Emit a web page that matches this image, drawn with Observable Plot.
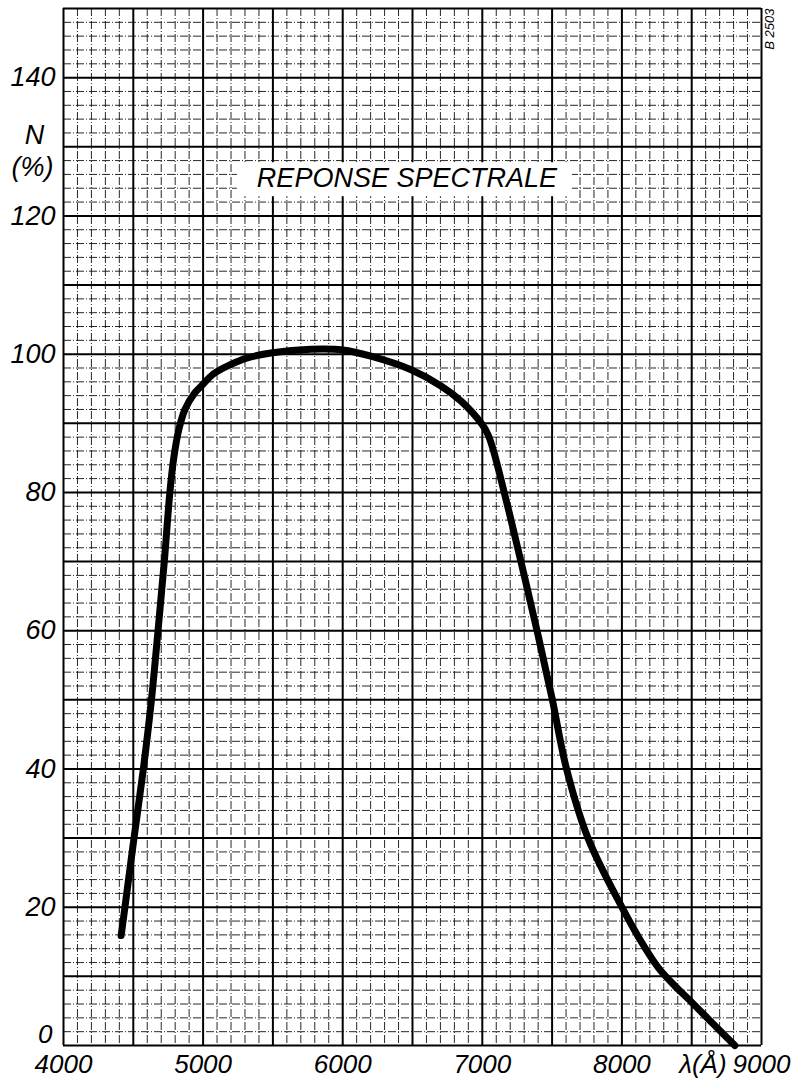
<!DOCTYPE html>
<html><head><meta charset="utf-8">
<script src="https://cdn.jsdelivr.net/npm/d3@7"></script>
<script src="https://cdn.jsdelivr.net/npm/@observablehq/plot@0.6"></script>
<style>html,body{margin:0;padding:0;background:#fff;overflow:hidden;} svg{display:block;}</style>
</head><body><div id="chart"></div>
<script>
// Spectral response curve: wavelength (Å) vs N (%)
const wavelength = [4413, 4440, 4505, 4572, 4630, 4677, 4722, 4762, 4790, 4825, 4870, 4940, 4983, 5078, 5198, 5306, 5497, 5772, 6000, 6202, 6494, 6704, 6848, 7000, 7040, 7075, 7120, 7200, 7300, 7400, 7500, 7601, 7757, 8000, 8127, 8259, 8380, 8503, 8650, 8809];
const response   = [15.9, 20, 30, 40, 50, 60, 70, 80, 85, 89, 92, 94.4, 95.3, 97.2, 98.5, 99.4, 100.2, 100.7, 100.6, 99.7, 97.7, 95.4, 93.2, 89.8, 88.4, 86.4, 83, 76.5, 68, 59.3, 50.2, 40.2, 30, 20, 15.4, 11.3, 8.6, 6.2, 3.2, 0];

const xTickLabels = [4000, 5000, 6000, 7000, 8000, 9000];
const yTickLabels = [20, 40, 60, 80, 100, 120, 140];
const yZeroLabel = [0];
const xMajorGrid = d3.range(4000, 9001, 500);
const xMinorGrid = d3.range(4000, 9001, 100).filter(v => v % 500 !== 0);
const yMajorGrid = d3.range(0, 151, 10);
const yMinorGrid = d3.range(0, 151, 2).filter(v => v % 10 !== 0);

const titleText = "REPONSE SPECTRALE";
const yUnitTop = "N";
const yUnitBottom = "(%)";
const xUnit = "λ(Å)";
const refCode = "B 2503";

const curve = wavelength.map((x, i) => ({x, y: response[i]}));
const font = "'Liberation Sans', Arial, sans-serif";

const minorStyle = {stroke: "#111", strokeWidth: 1, strokeDasharray: "8,2,1,2", strokeOpacity: 0.9};
const majorStyle = {stroke: "#000", strokeWidth: 2};

const plot = Plot.plot({
  width: 796, height: 1079,
  marginTop: 8, marginBottom: 34, marginLeft: 63, marginRight: 35,
  x: {domain: [4000, 9000]},
  y: {domain: [0, 150]},
  style: {fontFamily: font, fontStyle: "italic", fontSize: "27px", background: "#fff", color: "#000", overflow: "visible"},
  marks: [
    Plot.ruleX(xMinorGrid, minorStyle),
    Plot.ruleY(yMinorGrid, minorStyle),
    Plot.ruleX(xMajorGrid, majorStyle),
    Plot.ruleY(yMajorGrid, majorStyle),
    Plot.axisX(xTickLabels, {tickSize: 0, tickPadding: 9, fontSize: 26, label: null, tickFormat: d => String(d)}),
    Plot.axisY(yTickLabels, {tickSize: 0, tickPadding: 8, label: null, tickFormat: d => String(d)}),
    Plot.axisY(yZeroLabel, {tickSize: 0, tickPadding: 11, label: null, dy: -11, fontSize: 26, tickFormat: d => String(d)}),
    Plot.line(curve, {x: "x", y: "y", stroke: "#000", strokeWidth: 7, curve: "catmull-rom", strokeLinecap: "round", strokeLinejoin: "round"}),
    Plot.text([titleText], {x: 6460, y: 125.4, text: d => d, fontSize: 27, textAnchor: "middle", lineAnchor: "middle"}),
    Plot.text([yUnitTop], {x: 4000, y: 131.7, text: d => d, dx: -29, fontSize: 27, textAnchor: "middle", lineAnchor: "middle"}),
    Plot.text([yUnitBottom], {x: 4000, y: 127, text: d => d, dx: -31, fontSize: 27, textAnchor: "middle", lineAnchor: "middle"}),
    Plot.text([xUnit], {x: 8580, y: 0, text: d => d, dy: 9, fontSize: 26, textAnchor: "middle", lineAnchor: "top"}),
    Plot.text([refCode], {frameAnchor: "top-right", text: d => d, dx: 8, rotate: -90, textAnchor: "end", lineAnchor: "middle", fontSize: 13})
  ]
});
document.getElementById("chart").appendChild(plot);

// white box behind the title, cutting the grid
d3.select(plot).selectAll("text").each(function() {
  if (this.textContent === titleText) {
    const bb = this.getBBox();
    const tr = this.getAttribute("transform");
    const r = d3.select(this.parentNode).insert("rect", ":first-child")
      .attr("x", bb.x - 20).attr("y", bb.y - 1)
      .attr("width", bb.width + 34).attr("height", bb.height + 4)
      .attr("fill", "#fff");
    if (tr) r.attr("transform", tr);
  }
});
</script>
</body></html>
